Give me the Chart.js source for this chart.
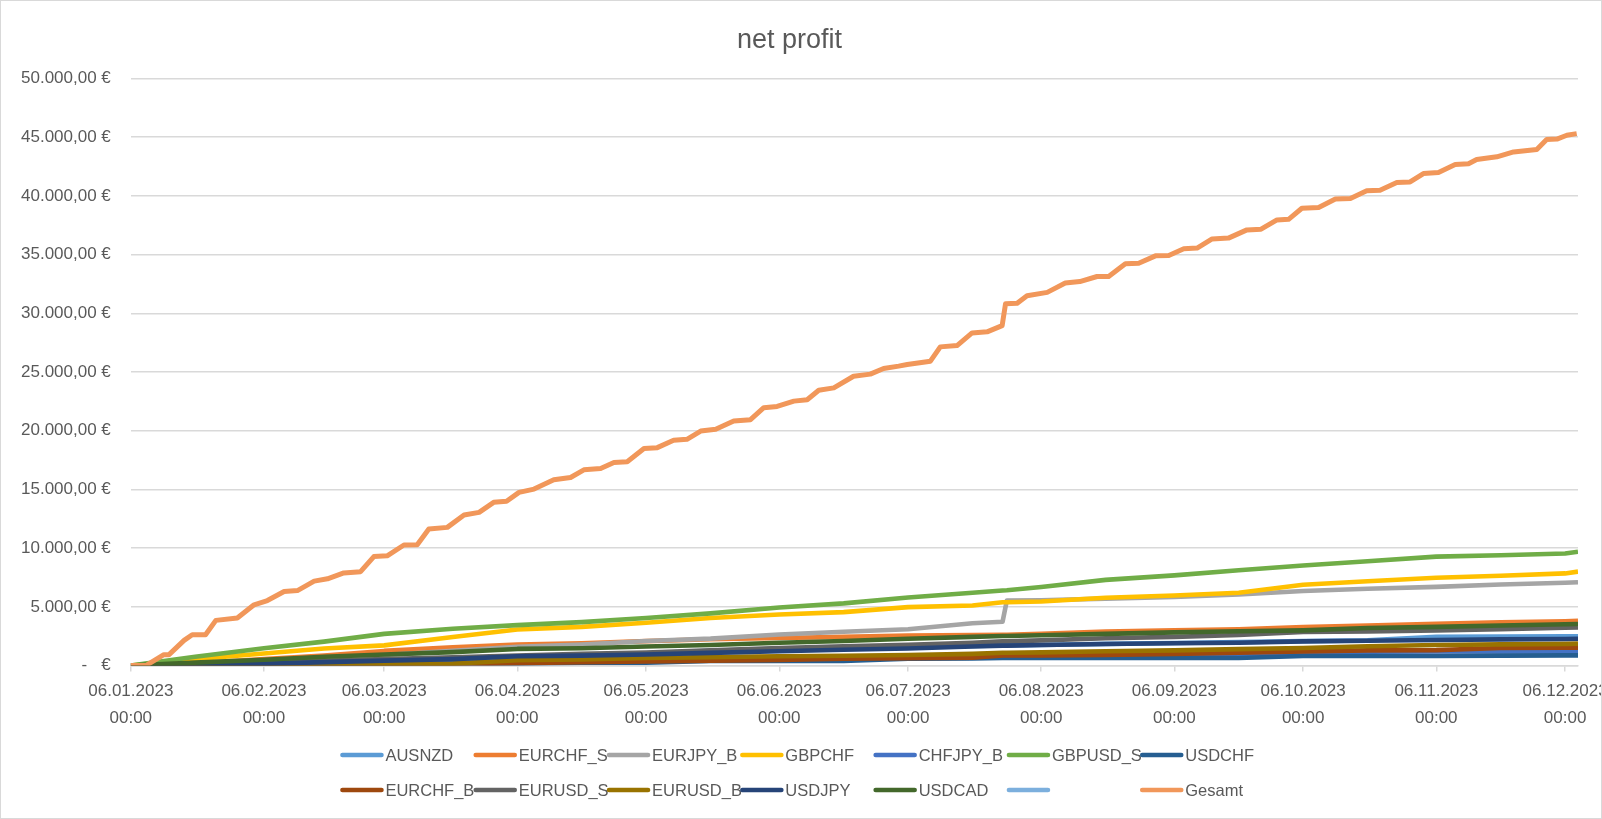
<!DOCTYPE html>
<html>
<head>
<meta charset="utf-8">
<title>net profit</title>
<script src="https://cdn.jsdelivr.net/npm/chart.js@4.4.0/dist/chart.umd.min.js"></script>
<style>
  html, body { margin: 0; padding: 0; background: #fff; }
  #wrap { width: 1602px; height: 819px; box-sizing: border-box; border: 1px solid #d9d9d9; overflow: hidden; }
  canvas { display: block; }
</style>
</head>
<body>
<div id="wrap"><canvas id="profit-chart" width="1600" height="817"></canvas></div>
<script>
// x values are days counted from 06.01.2023
var days = [0, 15, 31, 45, 59, 75, 90, 105, 120, 135, 151, 166, 181, 196, 203, 204, 212, 227, 243, 258, 273, 288, 304, 319, 334, 337];

var ausnzd  = [0, 80, 200, 320, 450, 600, 750, 900, 1050, 1250, 1440, 1480, 1640, 1680, 1720, 1720, 1760, 1850, 1920, 2000, 2080, 2150, 2450, 2480, 2490, 2500];
var eurchfS = [0, 200, 550, 850, 1250, 1550, 1800, 1900, 2080, 2250, 2350, 2450, 2550, 2600, 2630, 2630, 2700, 2900, 3000, 3100, 3280, 3420, 3560, 3680, 3780, 3820];
var eurjpyB = [0, 150, 400, 650, 900, 1250, 1600, 1800, 2100, 2300, 2650, 2880, 3100, 3600, 3730, 5540, 5560, 5700, 5850, 6050, 6350, 6550, 6700, 6900, 7050, 7100];
var gbpchf  = [0, 550, 1030, 1450, 1720, 2440, 3080, 3300, 3650, 4050, 4350, 4550, 4980, 5120, 5400, 5400, 5460, 5780, 5970, 6200, 6880, 7180, 7480, 7650, 7850, 8000];
var chfjpyB = [0, 30, 80, 130, 180, 240, 300, 350, 400, 450, 500, 560, 620, 680, 720, 720, 740, 780, 820, 900, 1150, 1180, 1200, 1200, 1210, 1210];
var gbpusdS = [0, 750, 1480, 2040, 2700, 3140, 3450, 3700, 4050, 4450, 4950, 5300, 5800, 6200, 6400, 6420, 6700, 7300, 7680, 8120, 8520, 8880, 9280, 9400, 9550, 9700];
var usdchf  = [0, 0, 30, 60, 80, 120, 170, 250, 250, 400, 400, 400, 590, 600, 650, 650, 650, 650, 650, 650, 820, 820, 820, 850, 870, 870];
var eurchfB = [0, 0, 20, 50, 80, 120, 200, 300, 350, 420, 480, 590, 620, 680, 870, 870, 870, 900, 1000, 1100, 1200, 1300, 1320, 1500, 1520, 1530];
var eurusdS = [0, 100, 250, 400, 550, 700, 850, 1000, 1120, 1300, 1500, 1650, 1780, 1950, 2060, 2060, 2150, 2330, 2450, 2600, 2860, 2900, 3000, 3100, 3220, 3250];
var eurusdB = [0, 0, 30, 80, 120, 170, 450, 520, 650, 720, 790, 840, 900, 1000, 1100, 1100, 1130, 1220, 1300, 1400, 1500, 1650, 1750, 1810, 1850, 1870];
var usdjpy  = [0, 50, 150, 300, 420, 550, 790, 850, 950, 1080, 1220, 1350, 1450, 1620, 1700, 1700, 1760, 1840, 1900, 1950, 2060, 2120, 2180, 2230, 2270, 2290];
var usdcad  = [0, 250, 500, 750, 950, 1150, 1420, 1480, 1620, 1750, 1950, 2100, 2280, 2450, 2520, 2520, 2580, 2700, 2830, 2920, 3000, 3200, 3300, 3420, 3520, 3540];

// total, read with its own (finer) day positions
var gesamtDays = [0, 3.5, 7.7, 8.9, 12.4, 14.3, 17.4, 19.8, 24.8, 28.7, 31.8, 35.7, 38.8, 42.7, 45.8, 49.6, 53.5, 56.6, 59.7, 63.6,
  66.7, 69.4, 73.7, 77.6, 81.1, 84.5, 87.5, 90.4, 93.9, 98.5, 102.4, 105.5, 109.4, 112.5, 115.6, 119.5, 122.6, 126.4, 129.5, 132.7,
  136.2, 140.4, 144.3, 147.4, 150.5, 154.4, 157.5, 160.2, 163.7, 168.3, 172.2, 175.3, 178.8, 180.8, 186.2, 188.5, 192.4, 195.9, 199.4, 202.9,
  203.7, 206.4, 208.7, 213.4, 217.6, 221, 225, 227.7, 231.6, 234.7, 238.6, 241.7, 245.2, 248.3, 251.8, 255.6, 259.9, 263.2, 266.9, 269.6,
  272.7, 276.6, 280.5, 284, 287.8, 290.9, 294.8, 297.9, 301, 304.5, 308.4, 311.5, 313.4, 318.1, 322, 327.4, 329.7, 332.1, 334.4, 336.7];
var gesamt = [0, 0, 930, 930, 2150, 2630, 2630, 3850, 4050, 5180, 5540, 6310, 6390, 7190, 7390, 7890, 8000, 9280, 9350, 10270,
  10300, 11630, 11770, 12820, 13050, 13900, 14000, 14750, 15030, 15820, 16020, 16670, 16780, 17290, 17360, 18480, 18560, 19190, 19270, 19970,
  20120, 20820, 20940, 21960, 22070, 22520, 22640, 23450, 23650, 24640, 24820, 25300, 25500, 25640, 25920, 27140, 27250, 28330, 28420, 28950,
  30820, 30850, 31500, 31780, 32570, 32700, 33130, 33130, 34210, 34260, 34890, 34920, 35490, 35550, 36330, 36400, 37100, 37160, 37950, 38000,
  38940, 39010, 39730, 39780, 40430, 40480, 41140, 41180, 41900, 41990, 42660, 42730, 43090, 43320, 43740, 43940, 44790, 44830, 45160, 45300];

var tickDays   = [0, 31, 59, 90, 120, 151, 181, 212, 243, 273, 304, 334];
var tickLabels = ['06.01.2023', '06.02.2023', '06.03.2023', '06.04.2023', '06.05.2023', '06.06.2023',
                  '06.07.2023', '06.08.2023', '06.09.2023', '06.10.2023', '06.11.2023', '06.12.2023'];

var seriesNames  = ['AUSNZD', 'EURCHF_S', 'EURJPY_B', 'GBPCHF', 'CHFJPY_B', 'GBPUSD_S', 'USDCHF',
                    'EURCHF_B', 'EURUSD_S', 'EURUSD_B', 'USDJPY', 'USDCAD', '', 'Gesamt'];
var seriesColors = ['#5B9BD5', '#ED7D31', '#A5A5A5', '#FFC000', '#4472C4', '#70AD47', '#255E91',
                    '#9E480E', '#636363', '#997300', '#264478', '#43682B', '#7CAFDD', '#F1975A'];
var seriesValues = [ausnzd, eurchfS, eurjpyB, gbpchf, chfjpyB, gbpusdS, usdchf,
                    eurchfB, eurusdS, eurusdB, usdjpy, usdcad, null, null];

function points(xs, ys) {
  return xs.map(function(x, i) { return { x: x, y: ys[i] }; });
}

function euro(v) {
  if (v === 0) return '-\u00a0\u00a0\u00a0€';
  return String(Math.round(v)).replace(/\B(?=(\d{3})+(?!\d))/g, '.') + ',00 €';
}

var datasets = seriesNames.map(function(name, i) {
  var data = [];
  if (name === 'Gesamt') data = points(gesamtDays, gesamt);
  else if (seriesValues[i]) data = points(days, seriesValues[i]);
  return {
    label: name,
    data: data,
    borderColor: seriesColors[i],
    backgroundColor: seriesColors[i],
    borderWidth: name === 'Gesamt' ? 5 : 4.6,
    borderJoinStyle: 'round',
    pointRadius: 0,
    tension: 0,
    order: seriesNames.length - i   // later series on top, like excel
  };
});

// legend in a fixed 7 column grid under the axis
var gridLegend = {
  id: 'gridLegend',
  afterDraw: function(chart) {
    var ctx = chart.ctx;
    var colW = 133.3, lineLen = 43;
    var x0 = chart.width / 2 - 3.5 * colW + 6;
    var rows = [chart.height - 63, chart.height - 28];
    ctx.save();
    ctx.font = '16.5px "Liberation Sans", Arial, sans-serif';
    ctx.textBaseline = 'middle';
    ctx.fillStyle = '#595959';
    ctx.lineWidth = 4.6;
    ctx.lineCap = 'round';
    chart.data.datasets.forEach(function(ds, i) {
      var x = x0 + (i % 7) * colW;
      var y = rows[Math.floor(i / 7)];
      ctx.strokeStyle = ds.borderColor;
      ctx.beginPath();
      ctx.moveTo(x + 2, y);
      ctx.lineTo(x + lineLen - 2, y);
      ctx.stroke();
      ctx.fillText(ds.label, x + lineLen + 2, y + 1);
    });
    ctx.restore();
  }
};

Chart.defaults.font.family = '"Liberation Sans", Arial, sans-serif';
Chart.defaults.color = '#595959';

var ctx = document.getElementById('profit-chart').getContext('2d');
var myChart = new Chart(ctx, {
  type: 'line',
  data: { datasets: datasets },
  options: {
    responsive: false,
    animation: false,
    events: [],
    layout: { padding: { left: 0, right: 23, top: 0, bottom: 80 } },
    plugins: {
      legend: { display: false },
      tooltip: { enabled: false },
      title: {
        display: true,
        text: 'net profit',
        color: '#595959',
        font: { size: 27, weight: 'normal' },
        padding: { top: 23, bottom: 22 }
      }
    },
    scales: {
      x: {
        type: 'linear',
        min: 0,
        max: 337,
        afterBuildTicks: function(scale) {
          scale.ticks = tickDays.map(function(d) { return { value: d }; });
        },
        afterFit: function(scale) { scale.paddingRight = 0; },
        ticks: {
          autoSkip: false,
          maxRotation: 0,
          padding: 6,
          font: { size: 17, lineHeight: 1.6 },
          color: '#595959',
          callback: function(value) {
            return [tickLabels[tickDays.indexOf(value)], '00:00'];
          }
        },
        grid: { drawOnChartArea: false, drawTicks: true, tickLength: 6, color: '#d9d9d9', lineWidth: 1.5 },
        border: { display: true, color: '#d9d9d9', width: 1.5 }
      },
      y: {
        min: 0,
        max: 50000,
        ticks: {
          stepSize: 5000,
          padding: 20,
          font: { size: 17 },
          color: '#595959',
          callback: function(value) { return euro(value); }
        },
        grid: { color: '#d9d9d9', lineWidth: 1.5, drawTicks: false },
        border: { display: false }
      }
    }
  },
  plugins: [gridLegend]
});
</script>
</body>
</html>
